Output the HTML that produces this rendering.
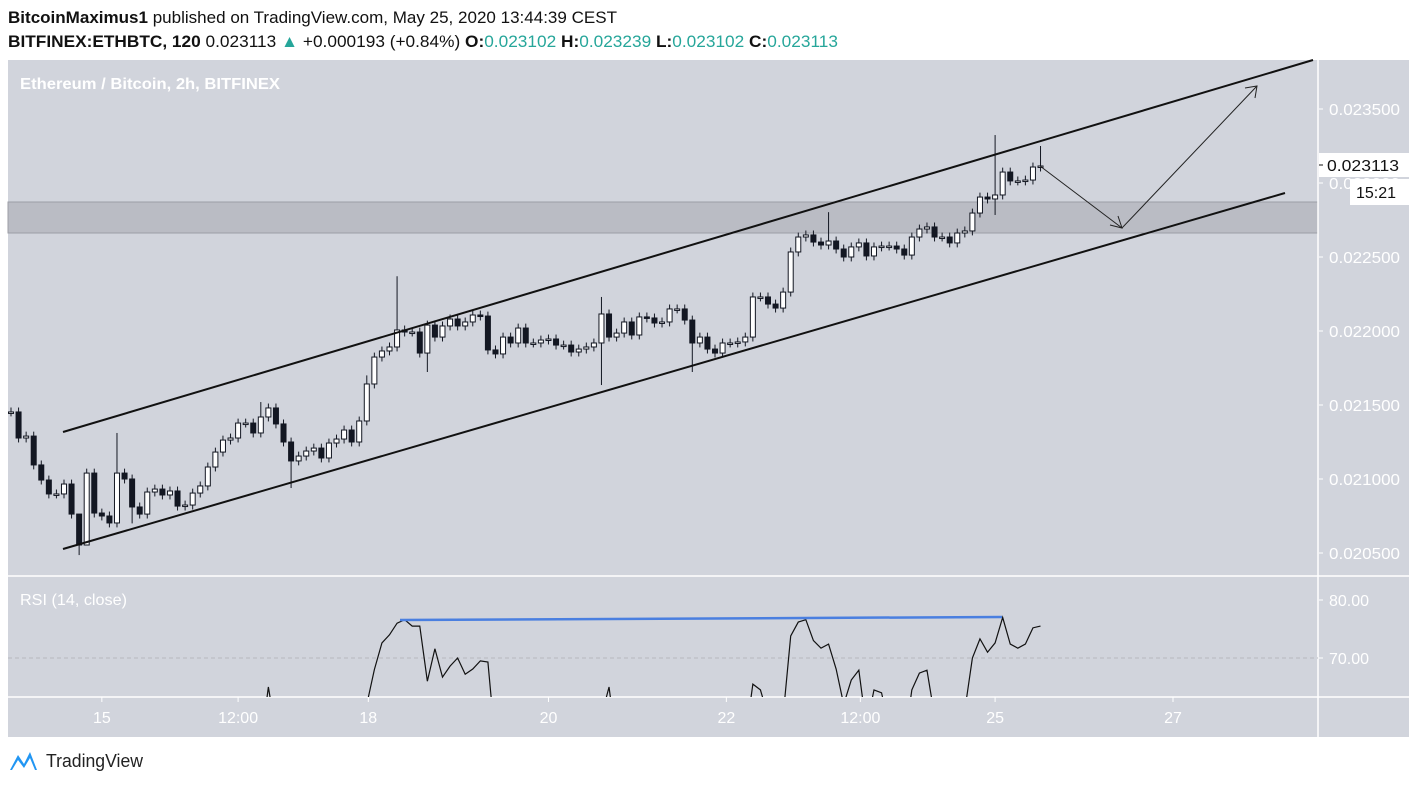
<!DOCTYPE html>
<html><head><meta charset="utf-8"><style>
html,body{margin:0;padding:0;background:#fff;width:1417px;height:786px;overflow:hidden}
svg{display:block;position:absolute;left:0;top:0;overflow:hidden;font-family:"Liberation Sans Narrow","Liberation Sans",sans-serif}
</style></head><body>
<svg id="chart" width="1417" height="786" viewBox="0 0 1417 786">
<defs><clipPath id="rsiclip"><rect x="8" y="577" width="1310" height="120"/></clipPath></defs>
<text x="8" y="23" font-size="17" fill="#111" textLength="609" lengthAdjust="spacingAndGlyphs"><tspan font-weight="bold">BitcoinMaximus1</tspan> published on TradingView.com, May 25, 2020 13:44:39 CEST</text>
<text x="8" y="47" font-size="17" fill="#111" textLength="830" lengthAdjust="spacingAndGlyphs"><tspan font-weight="bold">BITFINEX:ETHBTC, 120</tspan> 0.023113 <tspan fill="#26a69a">▲</tspan> +0.000193 (+0.84%) <tspan font-weight="bold">O:</tspan><tspan fill="#26a69a">0.023102</tspan> <tspan font-weight="bold">H:</tspan><tspan fill="#26a69a">0.023239</tspan> <tspan font-weight="bold">L:</tspan><tspan fill="#26a69a">0.023102</tspan> <tspan font-weight="bold">C:</tspan><tspan fill="#26a69a">0.023113</tspan></text>
<rect x="8" y="60" width="1401" height="677" fill="#d1d4dc"/>
<rect x="8" y="202" width="1310" height="31" fill="#babcc4" stroke="#9c9ea6" stroke-width="1"/>
<line x1="1318" y1="60" x2="1318" y2="737" stroke="#fff" stroke-width="1.5"/>
<line x1="8" y1="576" x2="1409" y2="576" stroke="#fff" stroke-width="1.5"/>
<line x1="8" y1="697" x2="1409" y2="697" stroke="#fff" stroke-width="1.5"/>
<text x="20" y="89" font-size="16" font-weight="bold" fill="#fff" textLength="260" lengthAdjust="spacingAndGlyphs">Ethereum / Bitcoin, 2h, BITFINEX</text>
<text x="20" y="605" font-size="16" fill="#fff" textLength="107" lengthAdjust="spacingAndGlyphs">RSI (14, close)</text>
<line x1="8" y1="658" x2="1318" y2="658" stroke="#b6b8be" stroke-dasharray="4,3"/>
<g id="candles"></g>
<g id="axes"></g>
<line x1="63" y1="432" x2="1313" y2="60" stroke="#111" stroke-width="2"/>
<line x1="63" y1="549" x2="1285" y2="193" stroke="#111" stroke-width="2"/>
<polyline points="1040,166 1122,228 1257,86" fill="none" stroke="#222" stroke-width="1"/>
<polyline points="1110,225 1122,228 1118,216" fill="none" stroke="#222" stroke-width="1"/>
<polyline points="1245,88 1257,86 1255,98" fill="none" stroke="#222" stroke-width="1"/>
<line x1="400" y1="620" x2="1002" y2="617" stroke="#4a7fe0" stroke-width="2.5"/>
<g id="labels">
<rect x="1319" y="153" width="90" height="24" fill="#fff"/>
<line x1="1319" y1="165" x2="1323" y2="165" stroke="#111"/>
<text x="1327" y="171" font-size="16" fill="#111" textLength="72" lengthAdjust="spacingAndGlyphs">0.023113</text>
<rect x="1350" y="179" width="59" height="26" fill="#fff"/>
<text x="1356" y="198" font-size="16" fill="#111">15:21</text>
</g>
<g>
<path d="M10,770 L18,755 L24,764 L30,752 L37,770 Z" fill="#2196f3"/>
<path d="M12,770 L18,760 L24,768 L30,758 L35,770 Z" fill="#fff"/>
<text x="46" y="767" font-size="18" fill="#222" textLength="97" lengthAdjust="spacingAndGlyphs">TradingView</text>
</g>
</svg>
<script>
const closes=[21453,21277,21290,21095,20993,20899,20899,20966,20763,20554,21040,20770,20750,20703,21040,21000,20811,20763,20912,20932,20892,20919,20817,20824,20905,20953,21081,21182,21263,21277,21378,21378,21311,21419,21480,21372,21250,21122,21155,21189,21209,21142,21243,21270,21331,21250,21392,21642,21824,21865,21892,22007,21993,21993,21851,22040,21959,22034,22081,22034,22061,22108,22101,21872,21845,21959,21919,22020,21919,21919,21939,21946,21905,21905,21858,21878,21892,21919,22115,21959,21986,22061,21973,22095,22088,22054,22061,22149,22149,22074,21919,21959,21878,21851,21919,21919,21926,21959,22230,22230,22182,22155,22263,22534,22635,22649,22601,22581,22608,22554,22500,22568,22595,22507,22568,22574,22574,22554,22513,22635,22689,22703,22635,22635,22595,22662,22676,22797,22905,22892,22919,23074,23014,23014,23020,23108,23115];
const firstOpen=21453;
const highOverrides={9:20600,14:21311,51:22370,78:22230,108:22803,130:23324,136:23250,33:21520,47:21700};
const lowOverrides={9:20486,37:20939,16:20700,55:21723,78:21635,90:21723,130:22784,10:20980};
const rsi=[50,48,47,45,44,43,43,44,42,40,46,43,42,41,46,45,43,42,44,45,44,45,43,44,45,46,49,52,55,56,58,58,56,55,65,57,54,51,52,53,54,52,55,56,58,55,59,62,68,72.6,74,76,76.6,75.5,75.5,66,71.6,66.7,68.6,70,67.2,68.1,69.5,69.3,55,54,56,55,57,55,55,56,56,55,54,55,55,56,60,65,55,57,58,56,59,58,57,60,60,58,52,54,51,50,53,53,54,56,65.5,64.5,60,58,60,73.8,76.2,76.6,73,71.7,72.4,68.1,62,66.2,67.9,58,64.5,64,58,57,55,64.5,67.4,67.9,60,60,59,61,61,70,73.3,71,72.6,77,72.4,71.7,72.4,75.2,75.5];
const priceTicks=["0.023500","0.023000","0.022500","0.022000","0.021500","0.021000","0.020500"];
const rsiTicks=["80.00","70.00"];
const timeLabels=["15","12:00","18","20","22","12:00","25","27"];
const timeIdx=[12,30,47.2,71,94.5,112.2,130,153.5];

const NS="http://www.w3.org/2000/svg";
const yP=p=>109+(0.0235-p)*148000;
const xI=i=>11+i*7.57;
const yR=v=>600+(80-v)*5.8;
function mk(tag,attrs,parent){const e=document.createElementNS(NS,tag);for(const k in attrs)e.setAttribute(k,attrs[k]);parent.appendChild(e);return e;}
const cg=document.getElementById('candles');
for(let i=0;i<closes.length;i++){
  const o=(i===0?firstOpen:closes[i-1])/1e6, c=closes[i]/1e6;
  const hi=(highOverrides[i]!==undefined?highOverrides[i]/1e6:Math.max(o,c)+0.00003);
  const lo=(lowOverrides[i]!==undefined?lowOverrides[i]/1e6:Math.min(o,c)-0.00003);
  const x=xI(i), up=c>=o;
  const g=mk('g',{},cg);
  
  
  mk('line',{x1:x,x2:x,y1:yP(hi),y2:yP(lo),stroke:'#131722','stroke-width':1},g);
  const top=yP(Math.max(o,c)),h=Math.max(1.5,yP(Math.min(o,c))-top);
  mk('rect',{x:x-2.5,y:top,width:5,height:h,fill:up?'#fff':'#131722',stroke:'#131722','stroke-width':1},g);
}
let pts=rsi.map((v,i)=>xI(i)+','+yR(v)).join(' ');
const rl=mk('polyline',{points:pts,fill:'none',stroke:'#111','stroke-width':1.2,'clip-path':'url(#rsiclip)'},cg);


const ag=document.getElementById('axes');
priceTicks.forEach(t=>{
  const y=yP(parseFloat(t));
  mk('line',{x1:1319,x2:1323,y1:y,y2:y,stroke:'#fff'},ag);
  const tx=mk('text',{x:1329,y:y+6,'font-size':16,fill:'#fff',textLength:71,lengthAdjust:'spacingAndGlyphs'},ag);
  tx.textContent=t;
  
  
});
rsiTicks.forEach(t=>{
  const y=yR(parseFloat(t));
  mk('line',{x1:1319,x2:1323,y1:y,y2:y,stroke:'#fff'},ag);
  const tx=mk('text',{x:1329,y:y+6,'font-size':16,fill:'#fff'},ag);
  tx.textContent=t;
  
  
});
timeLabels.forEach((t,k)=>{
  const x=xI(timeIdx[k]);
  mk('line',{x1:x,x2:x,y1:697,y2:702,stroke:'#fff'},ag);
  const tx=mk('text',{x:x,y:723,'font-size':16,fill:'#fff','text-anchor':'middle'},ag);
  tx.textContent=t;
  
  
});
const svg=document.getElementById('chart');
svg.appendChild(document.getElementById('labels'));
</script>
</body></html>
